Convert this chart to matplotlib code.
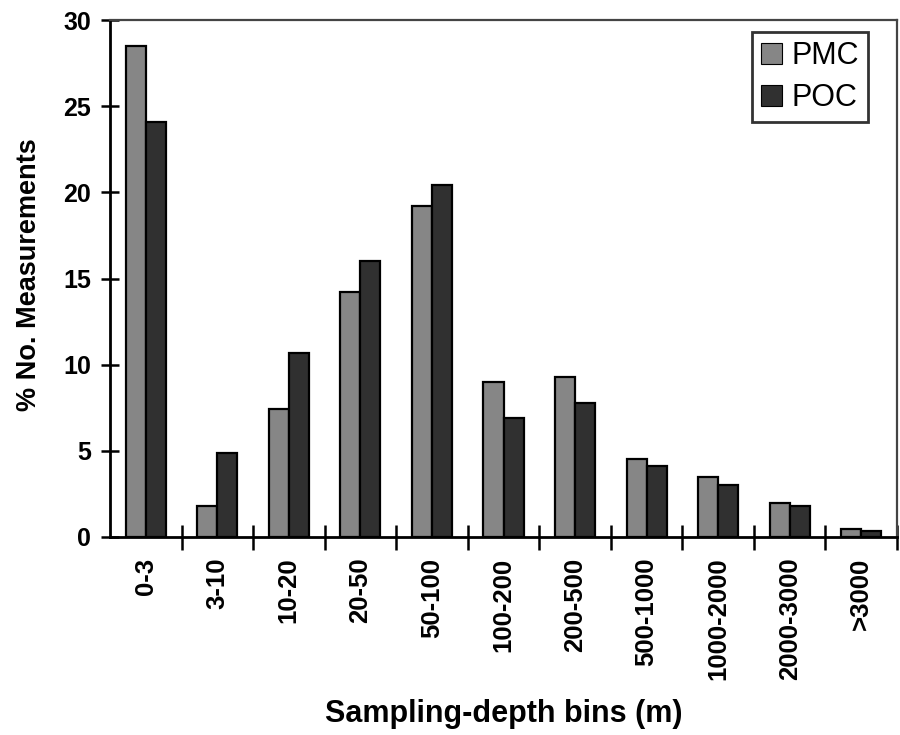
import matplotlib
matplotlib.use("Agg")
import matplotlib.pyplot as plt
import numpy as np

categories = ["0-3", "3-10", "10-20", "20-50", "50-100", "100-200", "200-500",
              "500-1000", "1000-2000", "2000-3000", ">3000"]
pmc = [28.5, 1.8, 7.4, 14.2, 19.2, 9.0, 9.3, 4.5, 3.5, 2.0, 0.45]
poc = [24.1, 4.9, 10.7, 16.0, 20.4, 6.9, 7.8, 4.1, 3.0, 1.8, 0.35]
series_names = ["PMC", "POC"]
yticks = [0, 5, 10, 15, 20, 25, 30]

plt.rcParams['font.family'] = ['Liberation Sans', 'DejaVu Sans']

fig = plt.figure(figsize=(9, 7.35), dpi=100)
ax = fig.add_axes([110/900, 1-537/735, 787/900, 517/735])

x = np.arange(len(categories))
w = 0.28
ax.bar(x - w/2, pmc, w, color="#868686", edgecolor="black", linewidth=1.6,
       label=series_names[0], zorder=3)
ax.bar(x + w/2, poc, w, color="#303030", edgecolor="black", linewidth=1.6,
       label=series_names[1], zorder=3)

ax.set_xlim(-0.5, len(categories) - 0.5)
ax.set_ylim(0, 30)
ax.set_yticks(yticks)
ax.set_yticklabels([str(t) for t in yticks], fontsize=18, fontweight='bold')

ax.set_xticks(x)
ax.set_xticklabels(categories, rotation=90, fontsize=18.5, fontweight='bold')
ax.set_xticks(np.arange(0.5, len(categories), 1.0), minor=True)
ax.tick_params(axis='x', which='major', length=0, pad=15)
ax.tick_params(axis='x', which='minor', length=18, width=1.8, direction='inout')
ax.tick_params(axis='y', which='major', length=13, width=1.8, direction='inout', pad=7)

for side in ['left', 'bottom']:
    ax.spines[side].set_linewidth(2.0)
    ax.spines[side].set_color('black')
for side in ['top', 'right']:
    ax.spines[side].set_linewidth(1.6)
    ax.spines[side].set_color('#444444')

ax.set_ylabel("% No. Measurements", fontsize=19.5, fontweight='bold')
ax.yaxis.set_label_coords((42 - 110) / 787, 0.507)
ax.set_xlabel("Sampling-depth bins (m)", fontsize=22, fontweight='bold')
ax.xaxis.set_label_coords(0.5, (537 - 699) / 517)

leg = ax.legend(loc='upper right', bbox_to_anchor=(0.963, 0.977), fontsize=22,
                frameon=True, fancybox=False, borderaxespad=0,
                handlelength=0.68, handleheight=0.68, handletextpad=0.3,
                labelspacing=0.4, borderpad=0.3)
leg.get_frame().set_edgecolor('black')
leg.get_frame().set_linewidth(2.0)
for h in leg.legend_handles:
    h.set_linewidth(0.8)

fig.savefig("out.png", dpi=100)
